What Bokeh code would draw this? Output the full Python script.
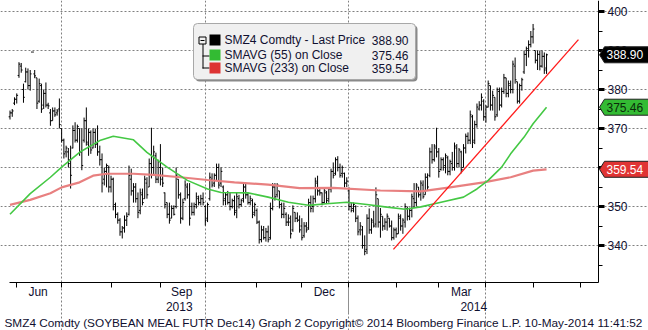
import numpy as np
import pandas as pd
from bokeh.plotting import figure
from bokeh.models import (Range1d, FixedTicker, Label, BoxAnnotation,
                          PolyAnnotation, ColumnDataSource, LinearAxis)
from bokeh.embed import file_html
from bokeh.resources import INLINE

# ---------------- data ----------------
open_ = [
    373.0, 374.0, 376.5, 377.5, 383.6, 386.0, 380.0, 382.0, 384.5, 381.0,
    389.6, 384.0, 383.0, 377.0, 381.0, 376.0, 379.0, 376.0, 374.0, 372.0,
    374.5, 374.0, 375.0, 370.0, 367.0, 364.0, 364.0, 362.0, 365.0, 369.5,
    367.0, 370.0, 364.0, 367.0, 372.0, 366.0, 369.0, 365.0, 369.0, 366.0,
    364.0, 362.0, 357.0, 359.0, 360.0, 355.0, 357.0, 350.5, 348.0, 346.5,
    343.5, 344.5, 346.5, 348.0, 357.0, 354.0, 355.0, 352.0, 349.0, 353.0,
    352.0, 356.0, 355.0, 361.0, 360.0, 363.0, 357.0, 360.0, 357.0, 353.5,
    351.0, 348.0, 347.0, 349.5, 350.0, 357.0, 353.0, 347.0, 352.0, 355.0,
    353.0, 350.0, 348.5, 350.5, 352.0, 351.0, 352.0, 350.0, 347.0, 352.0,
    357.0, 356.0, 358.0, 360.0, 356.0, 355.0, 352.0, 353.0, 351.0, 350.0,
    351.5, 349.0, 352.0, 350.5, 352.0, 355.0, 353.0, 351.0, 351.5, 348.5,
    349.0, 346.0, 341.5, 344.0, 342.0, 343.5, 342.0, 349.5, 355.0, 353.0,
    354.0, 350.5, 348.0, 348.0, 346.0, 346.0, 344.0, 348.5, 347.0, 346.5,
    345.0, 342.5, 345.0, 344.5, 351.0, 350.0, 352.0, 356.0, 354.0, 353.5,
    351.0, 353.5, 352.0, 354.5, 359.0, 358.5, 362.0, 360.0, 358.5, 358.5,
    356.0, 354.0, 350.0, 349.5, 350.0, 347.0, 344.0, 344.0, 340.0, 339.0,
    347.0, 344.0, 346.0, 345.5, 352.0, 346.0, 347.5, 345.0, 346.0, 347.0,
    345.0, 342.0, 344.0, 343.0, 347.0, 345.0, 346.0, 349.5, 347.5, 349.0,
    352.0, 351.0, 355.0, 353.0, 355.5, 353.0, 357.5, 358.0, 364.0, 362.0,
    365.0, 364.0, 359.5, 362.0, 360.5, 362.5, 359.0, 361.0, 360.0, 365.0,
    361.0, 364.0, 360.0, 365.0, 368.0, 367.0, 373.0, 367.0, 371.0, 375.0,
    376.0, 377.0, 373.0, 375.5, 381.0, 376.0, 378.0, 373.5, 379.5, 376.0,
    379.5, 383.0, 379.0, 381.0, 380.0, 386.0, 382.0, 377.0, 381.0, 384.5,
    389.0, 390.0, 391.5, 393.5, 390.0, 387.5, 389.0, 386.0, 388.5, 385.5,
]
high = [
    374.6, 375.0, 378.0, 379.0, 387.0, 386.8, 381.5, 385.6, 385.4, 385.0,
    389.6, 385.0, 383.0, 382.8, 381.5, 380.0, 381.8, 376.6, 375.0, 375.4,
    375.4, 375.0, 377.7, 370.0, 367.4, 365.6, 365.0, 365.6, 370.8, 371.6,
    371.0, 370.0, 370.0, 372.8, 375.4, 370.0, 369.5, 370.0, 370.0, 370.8,
    365.6, 363.6, 360.0, 361.0, 360.5, 357.9, 357.4, 351.0, 348.5, 347.0,
    345.0, 347.7, 348.5, 360.5, 359.7, 356.0, 356.0, 353.6, 354.6, 354.6,
    357.9, 357.5, 362.3, 370.2, 365.6, 363.8, 362.0, 366.0, 360.0, 353.6,
    351.0, 351.0, 350.3, 350.3, 360.0, 357.0, 353.6, 352.0, 356.7, 356.0,
    356.0, 351.0, 351.0, 353.6, 352.8, 353.0, 353.6, 350.3, 351.0, 358.7,
    358.5, 358.5, 361.0, 361.0, 360.0, 355.4, 353.6, 354.0, 353.6, 352.0,
    352.8, 353.6, 353.0, 352.0, 356.0, 356.0, 353.5, 352.8, 352.0, 351.0,
    349.5, 346.4, 345.1, 345.0, 344.5, 345.1, 351.0, 356.0, 356.0, 356.0,
    354.0, 351.0, 351.0, 348.5, 348.0, 347.7, 350.3, 348.5, 348.5, 347.7,
    347.0, 346.0, 346.0, 352.0, 352.8, 352.8, 357.4, 357.9, 355.0, 353.6,
    354.6, 354.0, 355.0, 359.7, 361.3, 362.6, 362.9, 361.0, 360.5, 358.7,
    357.5, 354.9, 351.0, 351.0, 350.3, 347.7, 346.0, 345.0, 342.6, 348.0,
    349.5, 347.0, 348.9, 354.9, 352.0, 349.6, 347.5, 347.0, 348.2, 347.0,
    346.4, 344.6, 344.6, 348.2, 348.0, 347.0, 350.8, 350.0, 349.7, 353.3,
    356.0, 356.0, 355.0, 356.7, 356.7, 358.5, 358.5, 365.1, 366.0, 366.0,
    370.2, 365.0, 362.6, 362.6, 363.6, 363.0, 362.0, 364.0, 366.4, 366.0,
    365.0, 364.3, 366.0, 368.7, 369.0, 374.6, 373.5, 372.0, 376.4, 377.0,
    379.0, 377.5, 376.0, 382.3, 381.0, 379.7, 378.0, 380.5, 380.5, 380.5,
    384.0, 383.0, 382.3, 382.3, 387.4, 388.2, 382.0, 381.5, 383.0, 390.0,
    391.0, 392.6, 395.0, 396.8, 390.0, 390.0, 390.0, 390.0, 389.5, 389.2,
]
low = [
    372.3, 373.0, 376.0, 376.4, 383.0, 384.3, 376.6, 381.8, 380.0, 379.7,
    389.6, 382.9, 375.0, 376.6, 374.0, 375.0, 375.4, 375.0, 370.7, 372.0,
    373.0, 373.3, 370.0, 366.4, 362.3, 362.6, 360.0, 354.6, 364.9, 366.4,
    366.4, 363.0, 359.3, 366.4, 365.6, 363.0, 363.5, 364.9, 365.0, 363.0,
    360.5, 353.6, 355.4, 354.9, 353.6, 353.6, 349.0, 347.0, 345.6, 342.5,
    341.8, 343.3, 345.0, 347.7, 352.8, 351.0, 351.0, 347.0, 348.0, 350.3,
    352.0, 352.0, 355.0, 357.2, 358.0, 356.0, 356.0, 355.4, 355.0, 349.5,
    347.0, 345.6, 347.0, 347.7, 349.5, 352.0, 345.6, 346.5, 351.5, 352.0,
    345.1, 347.7, 347.7, 349.5, 350.3, 350.3, 350.3, 345.1, 346.0, 351.5,
    354.9, 355.0, 356.7, 354.6, 355.0, 350.3, 350.3, 350.5, 349.0, 349.5,
    347.7, 347.0, 349.5, 350.0, 351.0, 352.0, 350.5, 350.3, 347.0, 347.5,
    345.5, 340.5, 340.8, 341.5, 341.0, 340.8, 341.5, 349.0, 351.5, 352.3,
    349.5, 347.0, 347.0, 345.0, 345.0, 341.8, 343.5, 346.0, 346.0, 343.3,
    341.3, 342.0, 343.3, 344.0, 348.5, 348.5, 351.0, 352.8, 352.8, 350.3,
    350.8, 350.8, 351.0, 353.6, 357.2, 358.0, 359.0, 357.4, 357.4, 354.9,
    355.0, 349.0, 348.5, 348.5, 346.0, 342.6, 342.6, 339.2, 337.5, 337.8,
    343.0, 343.0, 344.6, 344.6, 344.6, 342.0, 343.8, 344.0, 343.8, 344.6,
    341.3, 341.5, 342.0, 343.0, 343.8, 343.0, 344.6, 346.4, 346.5, 347.2,
    349.6, 350.0, 352.3, 351.5, 352.0, 353.0, 354.0, 357.5, 361.0, 361.5,
    362.6, 357.4, 359.2, 359.2, 358.5, 358.0, 358.0, 359.2, 359.2, 360.0,
    360.0, 358.5, 360.0, 363.6, 366.0, 366.0, 365.0, 366.0, 370.2, 374.6,
    374.6, 372.0, 371.5, 375.4, 374.6, 374.6, 372.0, 373.0, 374.6, 375.4,
    378.9, 378.0, 378.0, 379.0, 379.0, 381.5, 376.4, 376.4, 379.7, 384.0,
    386.0, 388.2, 390.8, 391.8, 386.7, 385.0, 384.9, 385.6, 384.0, 384.0,
]
close = [
    374.0, 374.5, 377.5, 378.5, 386.5, 385.0, 378.0, 384.5, 381.0, 384.0,
    389.6, 383.5, 376.5, 381.5, 375.0, 379.0, 376.0, 375.8, 372.0, 374.5,
    373.5, 374.5, 371.0, 367.0, 363.5, 365.0, 361.0, 358.0, 369.5, 367.0,
    370.5, 364.0, 360.5, 372.0, 366.5, 369.0, 364.5, 369.0, 366.0, 364.0,
    362.0, 356.0, 359.0, 360.5, 355.0, 357.0, 350.0, 348.0, 346.5, 343.5,
    344.5, 346.5, 347.5, 358.0, 354.0, 355.0, 352.0, 348.5, 353.5, 351.0,
    357.0, 353.0, 361.0, 360.0, 364.0, 357.0, 361.5, 358.0, 356.0, 350.5,
    348.0, 346.5, 349.5, 348.0, 358.0, 353.0, 347.0, 351.0, 355.5, 353.0,
    347.0, 348.5, 350.0, 352.5, 351.0, 352.0, 351.0, 346.5, 350.5, 357.5,
    355.5, 358.0, 360.0, 355.5, 359.0, 351.5, 353.0, 351.0, 350.0, 351.5,
    348.5, 352.5, 350.5, 351.5, 355.0, 353.0, 351.0, 352.0, 348.0, 350.5,
    346.0, 341.5, 344.0, 342.0, 343.5, 341.5, 349.5, 355.0, 352.5, 355.5,
    350.5, 348.0, 349.5, 346.0, 347.0, 343.0, 349.5, 347.0, 346.5, 344.0,
    342.0, 345.0, 344.0, 351.0, 349.5, 352.0, 356.5, 354.0, 353.5, 351.0,
    354.0, 351.5, 354.5, 359.0, 358.0, 362.0, 360.0, 358.0, 360.0, 356.0,
    356.5, 350.0, 349.0, 350.5, 347.0, 343.5, 345.0, 340.0, 338.5, 347.0,
    344.0, 346.5, 345.0, 353.0, 346.0, 348.0, 345.0, 346.0, 347.5, 345.0,
    342.0, 344.0, 343.0, 347.5, 345.0, 346.5, 350.0, 347.5, 349.0, 352.5,
    351.0, 355.5, 353.0, 356.0, 352.5, 357.5, 355.0, 364.0, 362.0, 365.5,
    364.0, 359.0, 362.0, 360.0, 363.0, 359.0, 361.5, 360.0, 365.5, 361.0,
    364.5, 359.5, 365.0, 368.0, 367.0, 373.5, 366.5, 371.0, 375.5, 376.0,
    378.0, 373.0, 375.5, 381.5, 376.0, 378.5, 373.0, 380.0, 376.0, 379.5,
    383.0, 379.0, 381.5, 380.0, 386.5, 382.5, 377.0, 381.0, 382.5, 389.0,
    390.5, 391.5, 393.5, 395.5, 387.5, 389.0, 386.0, 388.5, 385.0, 388.9,
]

# moving averages as drawn (bar index, value)
sma55_idx = [0, 9, 18, 23, 31, 40, 46, 55, 61, 70, 79, 88, 94, 106, 115, 124,
             133, 141, 150, 159, 167, 176, 183, 192, 202, 208, 213, 219, 223,
             229, 233, 239]
sma55_val = [348.0, 353.3, 357.5, 360.1, 363.9, 366.9, 368.0, 367.1, 363.9,
             360.1, 356.7, 354.5, 353.6, 353.5, 352.4, 351.1, 350.3, 350.7,
             351.1, 350.5, 349.9, 349.3, 349.9, 351.1, 352.4, 354.5, 356.7,
             360.1, 363.5, 367.8, 371.2, 375.46]
sma233_idx = [0, 9, 18, 23, 31, 37, 43, 55, 64, 76, 88, 100, 115, 129, 144,
              165, 183, 196, 211, 223, 233, 239]
sma233_val = [350.4, 351.7, 353.4, 354.9, 356.2, 357.9, 358.4, 358.4, 358.1,
              357.5, 356.8, 356.2, 355.6, 354.7, 354.8, 354.1, 353.9, 354.9,
              356.2, 357.5, 359.2, 359.54]
trend_idx = [170.8, 253.2]
trend_val = [339.0, 392.8]

y_ticks = [340, 350, 360, 370, 380, 390, 400]
y_minor = [335, 345, 355, 365, 375, 385, 395]
label_months = [(2013, 6, "Jun"), (2013, 9, "Sep"), (2013, 12, "Dec"), (2014, 3, "Mar")]
years = ["2013", "2014"]
holidays = ["2013-07-04", "2013-09-02", "2013-11-28", "2013-12-25", "2014-01-01",
            "2014-01-20", "2014-02-17", "2014-04-18", "2014-05-26"]

legend_names = ["SMZ4 Comdty - Last Price", "SMAVG (55) on Close", "SMAVG (233) on Close"]
footer_text = ("SMZ4 Comdty (SOYBEAN MEAL FUTR Dec14) Graph 2  Copyright\u00a9 2014 "
               "Bloomberg Finance L.P.  10-May-2014 11:41:52")

# ---------------- layout calibration (canvas px) ----------------
W, H = 648, 330
BAR0_X, PX_PER_BAR = 9.5, 2.245      # x of first bar, spacing of bars
Y400, PX_PER_UNIT = 11.0, 3.9        # y of the 400 line, px per price unit
AX_X, AX_Y, LEFT_X = 598, 282, 9     # right axis x, bottom axis y, left edge

def x_at(X):
    return (X - BAR0_X) / PX_PER_BAR
def y_at(Y):
    return 400 - (Y - Y400) / PX_PER_UNIT
def fx(X):
    return X
def fy(Y):
    return H - Y

N = len(close)
idx = np.arange(N)
XL, XA = x_at(LEFT_X), x_at(AX_X)
YB, YT = y_at(AX_Y), y_at(0)

all_dates = pd.bdate_range("2013-05-29", "2014-07-31", freq="C", holidays=holidays)
month_start = [i for i in range(1, len(all_dates))
               if all_dates[i].month != all_dates[i - 1].month and i <= XA]
quarter_start = [i for i in month_start if all_dates[i].month in (1, 4, 7, 10)]
year_sep = [i for i in month_start if all_dates[i].month == 1][0]

def month_center(y, m):
    ii = [i for i, d in enumerate(all_dates) if d.year == y and d.month == m]
    return (ii[0] + ii[-1]) / 2.0

FONT = "Liberation Sans"
TXT = "#101030"

p = figure(width=W, height=H, x_range=Range1d(x_at(0), x_at(W)),
           y_range=Range1d(y_at(H), y_at(0)),
           output_backend="svg", toolbar_location=None,
           x_axis_location=None, y_axis_location=None,
           min_border_left=0, min_border_right=0, min_border_top=0,
           min_border_bottom=0, outline_line_color=None,
           background_fill_color="white", border_fill_color="white")

# grids (limited to the plotting area)
p.ygrid.ticker = FixedTicker(ticks=y_ticks)
p.ygrid.bounds = (XL, XA)
p.xgrid.ticker = FixedTicker(ticks=quarter_start)
p.xgrid.bounds = (YB, YT)
for g in (p.xgrid, p.ygrid):
    g.grid_line_color = "#808080"
    g.grid_line_dash = "2 2"
    g.grid_line_width = 1

# right price axis
ya = LinearAxis(fixed_location=XA, bounds=(YB, YT),
                ticker=FixedTicker(ticks=y_ticks, minor_ticks=y_minor))
ya.axis_line_color = "black"
ya.major_tick_in = 0
ya.major_tick_out = 6
ya.major_tick_line_width = 3
ya.major_tick_line_color = "black"
ya.minor_tick_in = 0
ya.minor_tick_out = 4
ya.minor_tick_line_color = "black"
ya.major_label_standoff = 3
ya.major_label_text_font = FONT
ya.major_label_text_font_size = "12px"
ya.major_label_text_color = TXT
p.add_layout(ya, "right")

# bottom time axis (month ticks, year separator)
xa = LinearAxis(fixed_location=YB, bounds=(XL, XA),
                ticker=FixedTicker(ticks=[year_sep], minor_ticks=month_start))
xa.axis_line_color = "black"
xa.major_tick_in = -5
xa.major_tick_out = 31
xa.major_tick_line_color = "#909090"
xa.minor_tick_in = 0
xa.minor_tick_out = 5
xa.minor_tick_line_color = "black"
xa.major_label_overrides = {year_sep: ""}
xa.major_label_text_color = None
xa.major_label_text_font_size = "1px"
p.add_layout(xa, "below")

# OHLC bars
src = ColumnDataSource(dict(x=idx, xl=idx - 0.6, xr=idx + 0.6,
                            o=open_, h=high, l=low, c=close))
p.segment("x", "l", "x", "h", source=src, line_color="black", line_width=1)
p.segment("xl", "o", "x", "o", source=src, line_color="black", line_width=1)
p.segment("x", "c", "xr", "c", source=src, line_color="black", line_width=1)

# moving averages and trend line
p.line(sma233_idx, sma233_val, line_color="#e88080", line_width=2.2)
p.line(sma55_idx, sma55_val, line_color="#44c844", line_width=1.6)
p.line(trend_idx, trend_val, line_color="#ff1a1a", line_width=1.3)

# value tags on the right axis
tags = [(close[-1], "#000000", "white"),
        (sma55_val[-1], "#33bb33", "#0a2a0a"),
        (sma233_val[-1], "#e03434", "white")]
half = 8 / PX_PER_UNIT
for val, fill, tc in tags:
    p.add_layout(PolyAnnotation(
        xs=[fx(599), fx(604), fx(650), fx(650), fx(604)], xs_units="screen",
        ys=[val, val + half, val + half, val - half, val - half], ys_units="data",
        fill_color=fill, fill_alpha=1, line_color="#202020", line_alpha=1, line_width=1))
    p.add_layout(Label(x=fx(606), x_units="screen", y=val, y_units="data",
                       text=f"{val:.2f}", text_baseline="middle", text_align="left",
                       text_font=FONT, text_font_size="12px", text_color=tc))

# legend box
def sbox(l, r, t, b, fill, line=None, radius=0):
    p.add_layout(BoxAnnotation(left=fx(l), right=fx(r), top=fy(t), bottom=fy(b),
                               left_units="screen", right_units="screen",
                               top_units="screen", bottom_units="screen",
                               fill_color=fill, fill_alpha=1,
                               line_color=line if line else "black",
                               line_alpha=1 if line else 0, line_width=1,
                               border_radius=radius))

sbox(195, 417, 25, 81, "#8a8a8a", radius=4)
sbox(193, 415, 23, 79, "#f0f0f0", "#a8a8a8", radius=4)
# tree icon
sbox(202, 203, 43, 68, "#000000")
sbox(202, 209, 55, 56, "#000000")
sbox(202, 209, 67, 68, "#000000")
sbox(198.5, 205.5, 36.5, 43.5, "#f0f0f0", "#000000")
sbox(200, 204, 39.5, 40.5, "#000000")

row_y = [39.5, 54.5, 67.5]
colors = ["#000000", "#33bb33", "#dd3333"]
values = [close[-1], sma55_val[-1], sma233_val[-1]]
for ry, col, name, v in zip(row_y, colors, legend_names, values):
    sbox(209, 220, ry - 5.5, ry + 5.5, col)
    p.add_layout(Label(x=fx(224), x_units="screen", y=fy(ry), y_units="screen",
                       text=name, text_baseline="middle", text_align="left",
                       text_font=FONT, text_font_size="12px", text_color=TXT))
    p.add_layout(Label(x=fx(408), x_units="screen", y=fy(ry), y_units="screen",
                       text=f"{v:.2f}", text_baseline="middle", text_align="right",
                       text_font=FONT, text_font_size="12px", text_color=TXT))

# month / year labels and footer under the axis
for yy, mm, name in label_months:
    p.add_layout(Label(x=month_center(yy, mm), y=fy(291), y_units="screen",
                       text=name, text_align="center", text_baseline="middle",
                       text_font=FONT, text_font_size="12px", text_color=TXT))
year_centers = [(XL + year_sep) / 2.0, (year_sep + XA) / 2.0]
for yc, yt in zip(year_centers, years):
    p.add_layout(Label(x=yc, y=fy(306), y_units="screen", text=yt,
                       text_align="center", text_baseline="middle",
                       text_font=FONT, text_font_size="12px", text_color=TXT))
p.add_layout(Label(x=fx(4), x_units="screen", y=fy(322), y_units="screen",
                   text=footer_text, text_align="left", text_baseline="middle",
                   text_font=FONT, text_font_size="11.8px", text_color=TXT))

open("out.html", "w").write(file_html(p, INLINE))
